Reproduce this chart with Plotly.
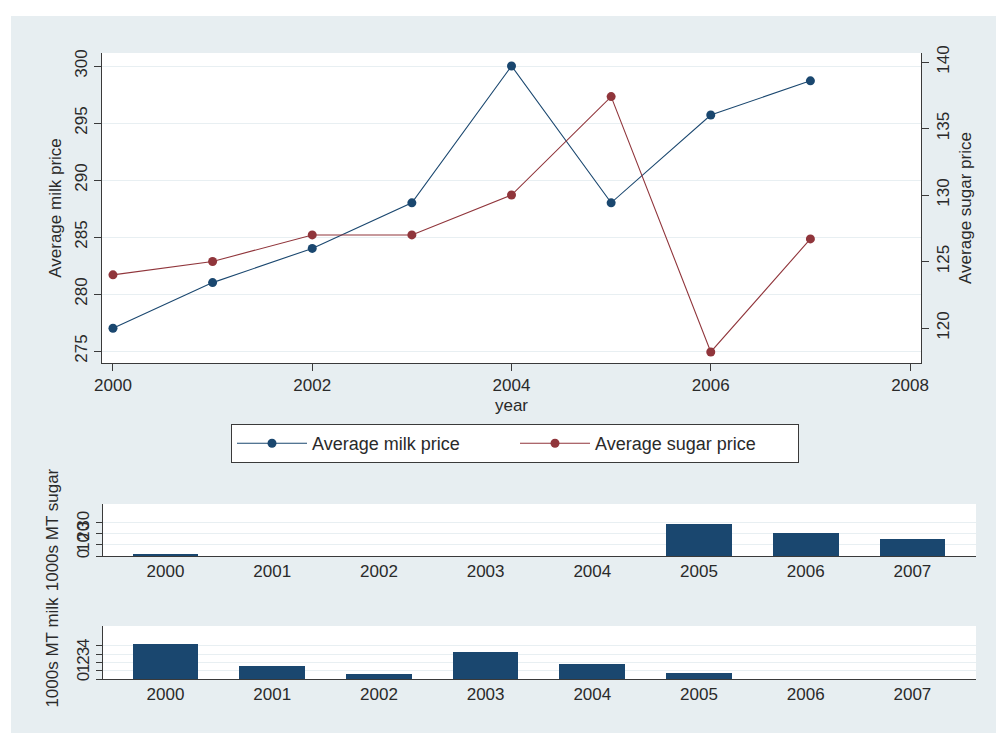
import plotly.graph_objects as go

# ---- data ----
years = [2000, 2001, 2002, 2003, 2004, 2005, 2006, 2007]
milk_price = [277, 281, 284, 288, 300, 288, 295.7, 298.7]
sugar_price = [124, 125, 127, 127, 130, 137.4, 118.2, 126.7]
sugar_volume = [2, 0, 0, 0, 0, 29, 20.5, 15]
milk_volume = [4.25, 1.6, 0.64, 3.3, 1.84, 0.72, 0, 0]

top_x_ticks = [2000, 2002, 2004, 2006, 2008]
milk_ticks = [275, 280, 285, 290, 295, 300]
sugar_ticks = [120, 125, 130, 135, 140]
sugar_vol_ticks = [0, 10, 20, 30]
milk_vol_ticks = [0, 1, 2, 3, 4]

# ---- style ----
W, H = 996, 733
BG = "#e7eef1"
GRID = "#e8eff2"
AX = "#3a3a3a"
TXT = "#2a2a2a"
NAVY = "#1a476f"
RED = "#90353b"
FONT = "Liberation Sans, Arial, sans-serif"
FS = 17

def fx(px):
    return px / W

def fy(py):
    return 1 - py / H

fig = go.Figure()

fig.add_trace(go.Scatter(
    x=years, y=milk_price, name="Average milk price", mode="lines+markers",
    line=dict(color=NAVY, width=1.1), marker=dict(color=NAVY, size=9),
    xaxis="x", yaxis="y"))
fig.add_trace(go.Scatter(
    x=years, y=sugar_price, name="Average sugar price", mode="lines+markers",
    line=dict(color=RED, width=1.1), marker=dict(color=RED, size=9),
    xaxis="x", yaxis="y2"))
fig.add_trace(go.Bar(
    x=years, y=sugar_volume, marker=dict(color=NAVY, line=dict(width=0)),
    width=0.616, showlegend=False, xaxis="x2", yaxis="y3"))
fig.add_trace(go.Bar(
    x=years, y=milk_volume, marker=dict(color=NAVY, line=dict(width=0)),
    width=0.616, showlegend=False, xaxis="x3", yaxis="y4"))

tickfont = dict(family=FONT, size=FS, color=TXT)
titlefont = dict(family=FONT, size=FS, color=TXT)

common_axis = dict(showline=True, linecolor=AX, linewidth=1, tickfont=tickfont,
                   zeroline=False, automargin=False)

fig.update_layout(
    width=W, height=H,
    margin=dict(l=0, r=0, t=0, b=0),
    paper_bgcolor=BG, plot_bgcolor="white",
    font=dict(family=FONT, size=FS, color=TXT),
    showlegend=True,
    legend=dict(orientation="h", x=fx(231), y=fy(424), xanchor="left", yanchor="top",
                bgcolor="white", bordercolor=AX, borderwidth=1,
                font=dict(family=FONT, size=18, color=TXT),
                itemwidth=70, entrywidth=198, entrywidthmode="pixels"),
    bargap=0,
    xaxis=dict(common_axis, domain=[fx(102), fx(921)], range=[1999.89, 2008.11],
               tickvals=top_x_ticks, ticks="outside", ticklen=7, tickcolor=AX,
               showgrid=False, anchor="y",
               title=dict(text="year", font=titlefont, standoff=4)),
    yaxis=dict(common_axis, domain=[fy(363), fy(53)], range=[273.95, 301.14],
               tickvals=milk_ticks, ticks="outside", ticklen=7, tickcolor=AX,
               tickangle=-90, showgrid=True, gridcolor=GRID, gridwidth=1,
               anchor="x",
               title=dict(text="Average milk price", font=titlefont, standoff=6)),
    yaxis2=dict(common_axis, overlaying="y", side="right", anchor="x",
                range=[117.37, 140.68], tickvals=sugar_ticks, ticks="outside",
                ticklen=7, tickcolor=AX, tickangle=-90, showgrid=False,
                title=dict(text="Average sugar price", font=titlefont, standoff=6)),
    xaxis2=dict(common_axis, domain=[fx(103), fx(976)], range=[1999.414, 2007.596],
                tickvals=years, ticks="", showgrid=False, anchor="y3"),
    yaxis3=dict(common_axis, domain=[fy(556), fy(504)], range=[0, 47],
                tickvals=sugar_vol_ticks, ticks="outside", ticklen=6, tickcolor=AX,
                tickangle=-90, showgrid=True, gridcolor=GRID, anchor="x2",
                title=dict(text="1000s MT sugar", font=titlefont, standoff=11)),
    xaxis3=dict(common_axis, domain=[fx(103), fx(976)], range=[1999.414, 2007.596],
                tickvals=years, ticks="", showgrid=False, anchor="y4"),
    yaxis4=dict(common_axis, domain=[fy(679), fy(626)], range=[0, 6.4],
                tickvals=milk_vol_ticks, ticks="outside", ticklen=6, tickcolor=AX,
                tickangle=-90, showgrid=True, gridcolor=GRID, anchor="x3",
                title=dict(text="1000s MT milk", font=titlefont, standoff=11)),
    shapes=[
        dict(type="rect", xref="paper", yref="paper", x0=0, x1=1, y0=fy(16), y1=1,
             fillcolor="white", line=dict(width=0), layer="below"),
        dict(type="rect", xref="paper", yref="paper", x0=0, x1=fx(11), y0=0, y1=1,
             fillcolor="white", line=dict(width=0), layer="below"),
    ],
)

fig.write_html("out.html")
